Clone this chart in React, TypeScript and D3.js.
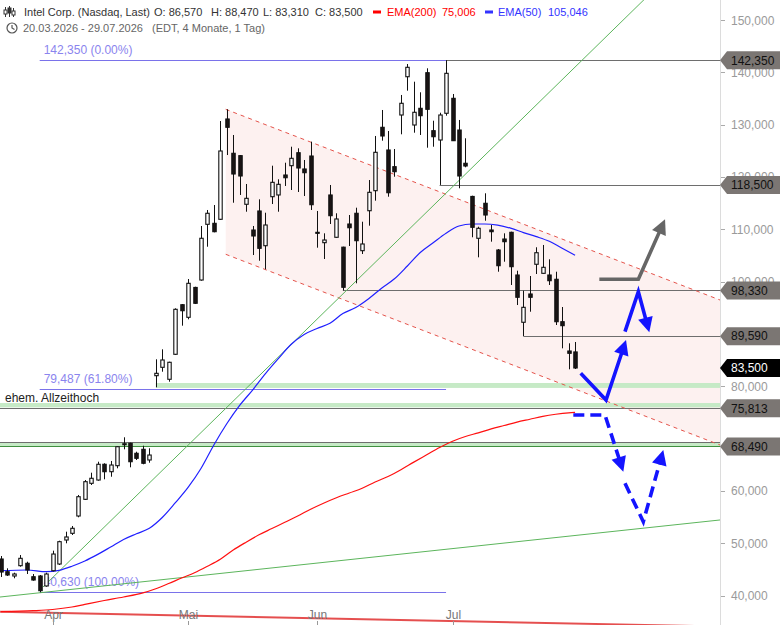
import React from "react";
import * as d3 from "d3";

const W = 780;
const H = 625;
const PLOT_R = 720;
const FONT = "'Liberation Sans', Arial, sans-serif";

// trading days 20.03.2026 - 29.07.2026
const dates = [
  "03-20","03-23","03-24","03-25","03-26","03-27","03-30","03-31",
  "04-01","04-02","04-06","04-07","04-08","04-09","04-10","04-13","04-14","04-15","04-16","04-17",
  "04-20","04-21","04-22","04-23","04-24","04-27","04-28","04-29","04-30",
  "05-01","05-04","05-05","05-06","05-07","05-08","05-11","05-12","05-13","05-14","05-15",
  "05-18","05-19","05-20","05-21","05-22","05-26","05-27","05-28","05-29",
  "06-01","06-02","06-03","06-04","06-05","06-08","06-09","06-10","06-11","06-12",
  "06-15","06-16","06-17","06-18","06-22","06-23","06-24","06-25","06-26","06-29","06-30",
  "07-01","07-02","07-06","07-07","07-08","07-09","07-10","07-13","07-14","07-15","07-16","07-17",
  "07-20","07-21","07-22","07-23","07-24","07-27","07-28","07-29",
];

const open = [
  46.98,44.55,43.73,45.70,46.16,43.59,43.73,41.82,44.74,46.02,
  50.61,51.89,55.20,58.39,61.45,62.08,65.09,63.67,64.82,68.97,
  69.10,67.19,67.95,65.91,82.03,83.63,81.34,86.12,95.60,93.19,
  98.90,100.32,110.97,111.16,111.93,131.11,124.55,124.10,114.80,109.88,
  113.52,106.88,116.25,116.58,120.40,122.18,124.66,121.55,124.03,109.44,
  107.46,116.58,108.49,106.60,111.03,113.08,105.93,113.57,117.40,129.52,
  125.18,121.99,131.87,139.19,129.96,133.15,139.96,128.87,127.09,132.20,
  135.06,129.00,122.64,116.30,108.30,114.99,109.88,106.06,108.16,109.44,
  101.28,92.24,97.65,103.33,101.60,101.28,100.46,92.35,86.75,86.57,
];
const high = [
  47.55,45.20,44.36,47.74,46.46,44.11,43.92,44.36,48.57,50.48,
  52.20,53.29,59.22,62.08,63.48,65.58,65.28,65.72,68.58,70.25,
  69.22,67.49,68.64,68.14,85.16,87.07,84.70,94.91,95.73,100.51,
  99.04,110.65,113.71,114.66,130.72,132.96,128.05,124.22,118.68,110.65,
  115.75,113.19,122.18,119.58,122.75,125.81,125.50,123.27,126.77,113.52,
  109.25,118.49,113.08,106.69,112.75,114.15,111.47,119.44,127.86,132.83,
  128.81,125.37,135.70,141.62,138.24,136.21,140.80,130.78,132.31,142.35,
  135.89,130.92,127.42,116.44,110.51,116.90,110.84,106.25,109.25,109.56,
  102.10,98.28,101.09,106.58,107.02,104.28,101.91,95.16,88.22,88.47,
];
const low = [
  43.54,43.73,43.29,45.51,44.11,42.83,40.63,41.68,44.60,45.83,
  49.98,51.57,54.95,58.26,61.13,61.95,62.22,62.71,64.32,67.95,
  64.51,65.91,65.09,65.39,79.81,82.79,80.88,85.98,91.59,92.81,
  95.73,100.19,106.69,109.44,111.80,124.22,115.10,116.58,113.38,105.10,
  104.01,102.37,114.85,113.38,118.30,117.53,117.15,116.38,113.71,106.50,
  104.34,111.03,108.40,98.33,106.82,99.69,105.29,110.71,115.49,126.96,
  116.25,120.07,128.18,136.52,128.49,128.05,125.62,125.81,118.50,131.74,
  126.90,117.86,121.87,108.49,104.66,111.66,107.65,101.91,103.82,99.37,
  95.54,89.59,94.26,101.47,101.55,99.37,91.72,87.26,83.25,83.31,
];
const close = [
  44.49,43.92,44.11,47.11,44.88,42.96,40.92,44.11,47.93,50.29,
  51.19,52.85,58.89,61.76,62.41,65.09,63.67,64.95,68.45,69.02,
  65.58,66.23,65.28,66.86,82.48,85.03,84.59,94.72,94.45,99.69,
  95.87,108.30,113.08,109.56,124.99,129.52,120.59,120.21,115.94,108.74,
  106.38,110.84,119.00,118.62,119.88,123.59,121.74,120.84,114.72,109.40,
  107.97,112.62,111.99,98.93,110.32,107.84,107.21,117.09,124.74,127.86,
  117.01,121.03,134.11,140.99,132.39,131.74,132.96,127.72,131.87,139.84,
  126.96,120.21,122.12,110.40,110.21,112.75,109.56,103.06,107.65,102.87,
  97.02,95.10,97.02,105.54,102.75,100.19,92.35,91.59,86.31,83.50,
];

// [trading-day index, value]
const ema50: [number, number][] = [
  [0,44.74],[4,44.88],[7,44.55],[9,44.82],[11,45.60],[13,46.60],[15,47.86],[17,49.27],
  [19,50.71],[21,51.80],[23,52.85],[25,54.91],[27,57.69],[29,60.67],[31,64.28],[33,68.78],
  [35,72.83],[37,76.35],[39,79.28],[41,82.43],[43,85.30],[45,88.03],[47,89.90],[49,91.05],
  [51,92.04],[53,93.90],[55,95.07],[57,96.75],[59,98.74],[61,100.55],[63,103.00],[65,105.58],
  [67,107.44],[69,109.27],[71,110.65],[73,111.03],[75,111.03],[77,110.80],[79,110.23],
  [81,109.39],[83,108.62],[85,107.72],[87,106.38],[89,105.05],
];
const ema200: [number, number][] = [
  [0,36.90],[5,37.09],[8,37.32],[11,37.80],[13,38.30],[16,39.04],[19,39.71],[22,40.50],
  [24,41.30],[26,42.29],[28,43.35],[30,44.36],[32,45.60],[34,46.94],[36,48.70],[38,50.20],
  [40,51.60],[42,52.80],[44,54.00],[46,55.20],[48,56.50],[50,57.65],[52,58.70],[54,59.60],
  [56,60.50],[58,61.70],[60,62.75],[62,64.05],[64,65.50],[66,66.90],[68,68.30],[70,69.50],
  [72,70.40],[74,71.10],[76,71.85],[78,72.50],[80,73.15],[82,73.70],[84,74.25],[86,74.65],
  [88,74.93],[89,75.006],
];

const monthLabels = ["Apr", "Mai", "Jun", "Jul"];
const monthStarts = ["04-01", "05-01", "06-01", "07-01"];
const yTicks = [40, 50, 60, 80, 100, 110, 120, 130, 140, 150];

// drawn lines, [index, price]
const channelUpper: [number, number][] = [[34.84, 132.96], [111.47, 96.5]];
const channelLower: [number, number][] = [[34.84, 105.24], [111.47, 68.78]];
const steepGreen: [number, number][] = [[6.51, 41.63], [101, 155.5]];
const shallowGreen: [number, number][] = [[-0.155, 39.71], [111.47, 54.44]];
const redTrend: [number, number][] = [[-0.155, 36.9], [111.47, 34.07]];

// fibonacci retracement
const fibLevels = [142.35, 79.487, 40.63];
const fibLabels = ["142,350 (0.00%)", "79,487 (61.80%)", "40,630 (100.00%)"];
const fibFrom = 6;
const fibTo = 69;

// horizontal price lines [start index, value]
const priceLines: [number, number][] = [[69, 142.35], [68, 118.5], [53, 98.33], [81, 89.59], [-1, 75.813], [-1, 69.3]];
const priceBoxes = [142.35, 118.5, 98.33, 89.59, 75.813, 68.49];
const lastPrice = 83.5;
// green zones [start index, lower, upper]
const zones: [number, number, number][] = [[24, 79.69, 80.63], [-1, 75.97, 76.8], [-1, 68.49, 69.3]];
const greenLineLevel = 68.49;

// projection arrows
const blueSolid1: [number, number][] = [[89.88, 82.48], [93.8, 77.38], [96.9, 88.85]];
const blueSolid2: [number, number][] = [[96.74, 90.44], [98.81, 98.09], [100.51, 90.32]];
const grayArrow: [number, number][] = [[92.76, 100.46], [98.81, 100.46], [102.95, 111.93]];
const blueDash1: [number, number][] = [[88.73, 74.51], [93.64, 74.51], [96.48, 63.67]];
const blueDash2: [number, number][] = [[96.74, 61.45], [99.58, 54.11], [102.68, 67.82]];

const deLocale = d3.formatLocale({ decimal: ",", thousands: ".", grouping: [3], currency: ["", "€"] });
const fmt3 = deLocale.format(".3f");

const x = d3.scaleLinear().domain([-0.155, 111.47]).range([0, PLOT_R]);
const y = d3.scaleLinear().domain([34.36, 153.86]).range([H, 0]);

const lineGen = d3.line<[number, number]>().x((d) => x(d[0])).y((d) => y(d[1]));
const emaGen = d3
  .line<[number, number]>()
  .x((d) => x(d[0]))
  .y((d) => y(d[1]))
  .curve(d3.curveMonotoneX);

function arrow(pts: [number, number][], headLen = 15, headW = 7.5) {
  const px = pts.map((p) => [x(p[0]), y(p[1])]);
  const n = px.length;
  const tip = px[n - 1];
  const prev = px[n - 2];
  const dx = tip[0] - prev[0];
  const dy = tip[1] - prev[1];
  const len = Math.hypot(dx, dy);
  const ux = dx / len;
  const uy = dy / len;
  const bx = tip[0] - ux * headLen;
  const by = tip[1] - uy * headLen;
  const lineEnd = [tip[0] - ux * headLen * 0.7, tip[1] - uy * headLen * 0.7];
  const linePts = [...px.slice(0, n - 1), lineEnd];
  const line = "M" + linePts.map((p) => p.join(",")).join("L");
  const head = `M${tip[0]},${tip[1]}L${bx - uy * headW},${by + ux * headW}L${bx + uy * headW},${by - ux * headW}Z`;
  return { line, head };
}

function Arrow({ pts, color, dash }: { pts: [number, number][]; color: string; dash?: string }) {
  const a = arrow(pts);
  return (
    <g>
      <path d={a.line} fill="none" stroke={color} strokeWidth={3.6} strokeDasharray={dash} strokeLinejoin="miter" />
      <path d={a.head} fill={color} />
    </g>
  );
}

function PriceBox({ v, fill, color }: { v: number; fill: string; color: string }) {
  const yy = y(v);
  const d = `M${PLOT_R},${yy}L${PLOT_R + 7},${yy - 9}L${W},${yy - 9}L${W},${yy + 9}L${PLOT_R + 7},${yy + 9}Z`;
  return (
    <g>
      <path d={d} fill={fill} />
      <text x={731} y={yy} dy="0.36em" fontSize={12} fill={color} fontFamily={FONT}>
        {fmt3(v)}
      </text>
    </g>
  );
}

export default function App() {
  const candleW = 3.4;
  const chPoly = `M${x(channelUpper[0][0])},${y(channelUpper[0][1])}L${x(channelUpper[1][0])},${y(channelUpper[1][1])}L${x(channelLower[1][0])},${y(channelLower[1][1])}L${x(channelLower[0][0])},${y(channelLower[0][1])}Z`;
  return (
    <div style={{ position: "fixed", left: 0, top: 0, width: W, height: H, background: "#fff" }}>
      <svg width={W} height={H} style={{ display: "block" }}>
        <defs>
          <clipPath id="plot">
            <rect x={0} y={0} width={PLOT_R} height={H} />
          </clipPath>
        </defs>
        <rect x={0} y={0} width={W} height={H} fill="#fff" />
        <g clipPath="url(#plot)">
          {/* channel fill */}
          <path d={chPoly} fill="#fdf1f0" />
          {/* green zones */}
          {zones.map((z, k) => (
            <rect
              key={"z" + k}
              x={z[0] < 0 ? 0 : x(z[0])}
              y={y(z[2])}
              width={PLOT_R - (z[0] < 0 ? 0 : x(z[0]))}
              height={y(z[1]) - y(z[2])}
              fill="#c6eac6"
            />
          ))}
          {/* price lines */}
          {priceLines.map((p, k) => (
            <line
              key={"pl" + k}
              x1={p[0] < 0 ? 0 : x(p[0])}
              x2={PLOT_R}
              y1={Math.round(y(p[1])) + 0.5}
              y2={Math.round(y(p[1])) + 0.5}
              stroke="#6e6e6e"
              strokeWidth={1}
            />
          ))}
          <line x1={0} x2={PLOT_R} y1={Math.round(y(greenLineLevel)) + 0.5} y2={Math.round(y(greenLineLevel)) + 0.5} stroke="#3f8f3f" strokeWidth={1} />
          {/* fib lines */}
          {fibLevels.map((f, k) => (
            <line key={"fl" + k} x1={x(fibFrom)} x2={x(fibTo)} y1={Math.round(y(f)) + 0.5} y2={Math.round(y(f)) + 0.5} stroke="#7a72ea" strokeWidth={1} />
          ))}
          {fibLevels.map((f, k) => (
            <text key={"ft" + k} x={x(fibFrom) + 4} y={y(f) - 6} fontSize={12} fill="#8a84ee" fontFamily={FONT}>
              {fibLabels[k]}
            </text>
          ))}
          <text x={5} y={y(76.8) - 1} fontSize={12} fill="#222" fontFamily={FONT}>
            ehem. Allzeithoch
          </text>
          {/* trend lines */}
          <path d={lineGen(channelUpper) || ""} fill="none" stroke="#e5534b" strokeWidth={1} strokeDasharray="4,4" />
          <path d={lineGen(channelLower) || ""} fill="none" stroke="#e5534b" strokeWidth={1} strokeDasharray="4,4" />
          <path d={lineGen(steepGreen) || ""} fill="none" stroke="#5cb55c" strokeWidth={1} />
          <path d={lineGen(shallowGreen) || ""} fill="none" stroke="#5cb55c" strokeWidth={1} />
          <path d={lineGen(redTrend) || ""} fill="none" stroke="#e03030" strokeOpacity={0.85} strokeWidth={2} />
          {/* EMAs */}
          <path d={emaGen(ema200) || ""} fill="none" stroke="#ff1010" strokeWidth={1.2} />
          <path d={emaGen(ema50) || ""} fill="none" stroke="#2020ff" strokeWidth={1.2} />
          {/* candles */}
          {dates.map((d, i) => {
            const cx = Math.round(x(i)) + 0.5;
            const o = open[i];
            const c = close[i];
            const up = c >= o;
            const top = y(Math.max(o, c));
            const bot = y(Math.min(o, c));
            return (
              <g key={d}>
                <line x1={cx} x2={cx} y1={y(high[i])} y2={y(low[i])} stroke="#111" strokeWidth={1} />
                <rect
                  x={cx - candleW / 2}
                  y={top}
                  width={candleW}
                  height={Math.max(1, bot - top)}
                  fill={up ? "#fff" : "#1a1414"}
                  stroke="#111"
                  strokeWidth={1.1}
                />
              </g>
            );
          })}
          {/* projections */}
          <Arrow pts={grayArrow} color="#666" />
          <Arrow pts={blueSolid1} color="#1414ff" />
          <Arrow pts={blueSolid2} color="#1414ff" />
          <Arrow pts={blueDash1} color="#1414ff" dash="11,6" />
          <Arrow pts={blueDash2} color="#1414ff" dash="11,6" />
        </g>
        {/* x axis */}
        {monthLabels.map((m, k) => {
          const idx = dates.indexOf(monthStarts[k]);
          const mx = Math.round(x(idx)) + 0.5;
          return (
            <g key={m}>
              <text x={mx} y={619} textAnchor="middle" fontSize={12} fill="#777" fontFamily={FONT}>
                {m}
              </text>
              <line x1={mx} x2={mx} y1={621} y2={H} stroke="#999" />
            </g>
          );
        })}
        {/* y axis */}
        <line x1={PLOT_R + 0.5} x2={PLOT_R + 0.5} y1={0} y2={H} stroke="#dcdcdc" />
        {yTicks.map((t) => (
          <g key={t}>
            <line x1={PLOT_R + 1} x2={PLOT_R + 5} y1={Math.round(y(t)) + 0.5} y2={Math.round(y(t)) + 0.5} stroke="#aaa" />
            <text x={731} y={y(t)} dy="0.36em" fontSize={12} fill="#9a9a9a" fontFamily={FONT}>
              {fmt3(t)}
            </text>
          </g>
        ))}
        {priceBoxes.map((v) => (
          <PriceBox key={v} v={v} fill="#7b7673" color="#111" />
        ))}
        <PriceBox v={lastPrice} fill="#000" color="#fff" />
        {/* header */}
        <g fontFamily={FONT} fontSize={11}>
          <g stroke="#333" strokeWidth={1} fill="none">
            <line x1={5.5} x2={5.5} y1={7} y2={17} />
            <rect x={4} y={10} width={3} height={4} fill="#fff" />
            <line x1={9.5} x2={9.5} y1={6} y2={17} />
            <rect x={8} y={8} width={3} height={5} fill="#333" />
            <line x1={13.5} x2={13.5} y1={8} y2={17} />
            <rect x={12} y={11} width={3} height={4} fill="#fff" />
          </g>
          <text x={24} y={16} fill="#333">Intel Corp. (Nasdaq, Last)</text>
          <text x={154} y={16} fill="#333">O: 86,570</text>
          <text x={211} y={16} fill="#333">H: 88,470</text>
          <text x={263} y={16} fill="#333">L: 83,310</text>
          <text x={315} y={16} fill="#333">C: 83,500</text>
          <rect x={373} y={10.5} width={8} height={3} fill="#ff0000" />
          <text x={387} y={16} fill="#ff0000">EMA(200)</text>
          <text x={442} y={16} fill="#ff0000">75,006</text>
          <rect x={485} y={10.5} width={8} height={3} fill="#3333ff" />
          <text x={498} y={16} fill="#3333ff">EMA(50)</text>
          <text x={548} y={16} fill="#3333ff">105,046</text>
          <circle cx={12} cy={28} r={5} fill="none" stroke="#555" strokeWidth={1.2} />
          <path d="M12,25 L12,28 L14.5,29.5" fill="none" stroke="#555" strokeWidth={1.2} />
          <text x={23} y={32} fill="#666">20.03.2026 - 29.07.2026</text>
          <text x={152} y={32} fill="#666">(EDT, 4 Monate, 1 Tag)</text>
        </g>
      </svg>
    </div>
  );
}
